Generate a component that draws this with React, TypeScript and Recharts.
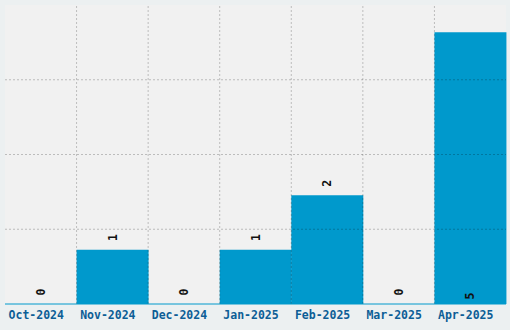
import { BarChart, Bar, XAxis, YAxis, CartesianGrid, LabelList, ReferenceLine } from "recharts";

const months = ["Oct-2024", "Nov-2024", "Dec-2024", "Jan-2025", "Feb-2025", "Mar-2025", "Apr-2025"];
const counts = [0, 1, 0, 1, 2, 0, 5];
const yTicks = [1.375, 2.75, 4.125];
const yMax = 5.5;

const data = months.map((month, i) => ({ month, count: counts[i] }));
const peak = Math.max(...counts);

const FONT = "'DejaVu Sans Mono', 'Liberation Mono', monospace";
const GRID = "rgba(0,0,0,0.22)";

function ValueLabel(props: any) {
  const { x, y, width, height, value } = props;
  const cx = Number(x) + Number(width) / 2;
  const cy = value === peak ? Number(y) + Number(height) - 8 : Number(y) - 12;
  return (
    <text
      x={cx}
      y={cy}
      transform={`rotate(-90 ${cx} ${cy})`}
      textAnchor="middle"
      dominantBaseline="central"
      fontFamily={FONT}
      fontWeight="bold"
      fontSize={11.5}
      fill="#111"
    >
      {value}
    </text>
  );
}

export default function App() {
  return (
    <div style={{ position: "absolute", left: 0, top: 0, width: 510, height: 330, background: "#ecf0f1" }}>
      <BarChart width={510} height={330} data={data} margin={{ top: 5, right: 4, left: 5, bottom: 0 }} barCategoryGap={0}>
        <CartesianGrid fill="#f1f1f1" stroke="transparent" horizontal={false} vertical={false} />
        <XAxis
          dataKey="month"
          height={26}
          interval={0}
          tickLine={false}
          axisLine={{ stroke: "#0099cc", strokeWidth: 1 }}
          tick={{ fill: "#0d5e96", fontFamily: FONT, fontWeight: "bold", fontSize: 11.5, dx: -4.5 }}
          tickMargin={1}
        />
        <YAxis hide domain={[0, yMax]} />
        <Bar dataKey="count" fill="#0099cc" minPointSize={0.01} isAnimationActive={false}>
          <LabelList dataKey="count" content={ValueLabel} />
        </Bar>
        {yTicks.map((t) => (
          <ReferenceLine key={`h-${t}`} y={t} stroke={GRID} strokeDasharray="2 2" />
        ))}
        {months.slice(1).map((m) => (
          <ReferenceLine key={`v-${m}`} x={m} position="start" stroke={GRID} strokeDasharray="2 2" />
        ))}
      </BarChart>
    </div>
  );
}
